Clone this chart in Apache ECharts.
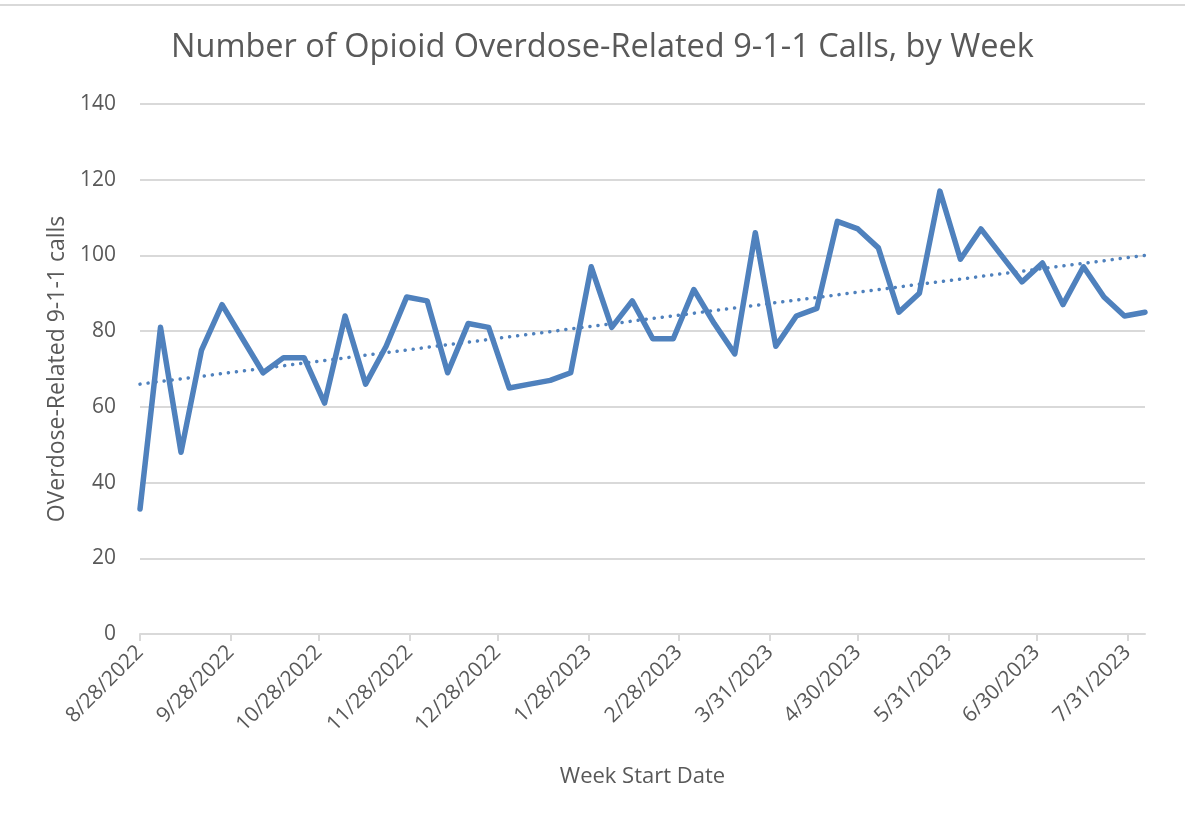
<!DOCTYPE html>
<html>
<head>
<meta charset="utf-8">
<script src="https://cdn.jsdelivr.net/npm/echarts@6/dist/echarts.min.js"></script>
<style>
  html, body { margin: 0; padding: 0; background: #ffffff; }
  #wrap { position: relative; width: 1185px; height: 823px; overflow: hidden; }
  #chart { position: absolute; left: 0; top: 0; width: 1185px; height: 823px; }
  #frame { position: absolute; left: 0; top: 4px; width: 1185px; height: 0; border-top: 2px solid #d9d9d9; pointer-events: none; }
</style>
</head>
<body>
<div id="wrap"><div id="chart"></div><div id="frame"></div></div>
<script>
// ---- Data ----
const startDate = [2022, 8, 28];     // first week start (Y, M, D)
const endDate = [2023, 8, 6];        // last week start / axis end
const weeklyCalls = [
  33, 81, 48, 75, 87, 78, 69, 73, 73, 61,
  84, 66, 76, 89, 88, 69, 82, 81, 65, 66,
  67, 69, 97, 81, 88, 78, 78, 91, 82, 74,
  106, 76, 84, 86, 109, 107, 102, 85, 90, 117,
  99, 107, 100, 93, 98, 87, 97, 89, 84, 85
];
const trendEnds = [66, 100];         // dotted linear trend: value at first and last week
const tickLabels = ['8/28/2022','9/28/2022','10/28/2022','11/28/2022','12/28/2022','1/28/2023',
                    '2/28/2023','3/31/2023','4/30/2023','5/31/2023','6/30/2023','7/31/2023'];
const yTicks = [0, 20, 40, 60, 80, 100, 120, 140];

// ---- Build ----
function ts(y, m, d) { return new Date(y, m - 1, d).getTime(); }
function parseMDY(s) { const p = s.split('/').map(Number); return ts(p[2], p[0], p[1]); }
const weekDates = weeklyCalls.map((_, i) => new Date(startDate[0], startDate[1] - 1, startDate[2] + 7 * i).getTime());
const lineData = weeklyCalls.map((v, i) => [weekDates[i], v]);
const minT = ts(startDate[0], startDate[1], startDate[2]);
const maxT = ts(endDate[0], endDate[1], endDate[2]);
const trendData = [[minT, trendEnds[0]], [maxT, trendEnds[1]]];
const tickTs = tickLabels.map(parseMDY);

const FONT = '"Open Sans", "Noto Sans", sans-serif';
const GREY = '#595959';
const BLUE = '#4f81bd';

const chart = echarts.init(document.getElementById('chart'), null, { renderer: 'canvas' });
chart.setOption({
  animation: false,
  backgroundColor: '#ffffff',
  title: {
    text: 'Number of Opioid Overdose-Related 9-1-1 Calls, by Week',
    left: 166,
    top: 26,
    textStyle: { fontFamily: FONT, fontSize: 32.5, fontWeight: 'normal', color: GREY }
  },
  grid: { left: 140, right: 40, top: 104, bottom: 189 },
  xAxis: {
    type: 'value',
    min: minT,
    max: maxT,
    name: 'Week Start Date',
    nameLocation: 'middle',
    nameGap: 132,
    nameTextStyle: { fontFamily: FONT, fontSize: 22, color: GREY },
    axisLine: { show: true, lineStyle: { color: '#d9d9d9', width: 2 } },
    axisTick: { show: true, customValues: tickTs, length: 7, lineStyle: { color: '#d9d9d9', width: 2 } },
    axisLabel: {
      customValues: tickTs,
      rotate: 45,
      margin: 15,
      fontFamily: FONT, fontSize: 21, color: GREY,
      formatter: function (v) { const d = new Date(v); return (d.getMonth() + 1) + '/' + d.getDate() + '/' + d.getFullYear(); }
    },
    splitLine: { show: false }
  },
  yAxis: {
    type: 'value',
    min: yTicks[0],
    max: yTicks[yTicks.length - 1],
    interval: 20,
    name: 'OVerdose-Related 9-1-1 calls',
    nameLocation: 'middle',
    nameGap: 70,
    nameRotate: 90,
    nameTextStyle: { fontFamily: FONT, fontSize: 23, color: GREY },
    axisLine: { show: false },
    axisTick: { show: false },
    axisLabel: { fontFamily: FONT, fontSize: 21, color: GREY, margin: 24 },
    splitLine: { lineStyle: { color: '#d9d9d9', width: 2 } }
  },
  series: [
    {
      type: 'line',
      data: lineData,
      showSymbol: false,
      symbol: 'none',
      lineStyle: { color: BLUE, width: 5.5, join: 'round', cap: 'round' },
      z: 3
    },
    {
      type: 'line',
      data: trendData,
      showSymbol: false,
      symbol: 'none',
      lineStyle: { color: BLUE, width: 3.5, type: [0.1, 8], cap: 'round' },
      z: 2
    }
  ]
});
</script>
</body>
</html>
